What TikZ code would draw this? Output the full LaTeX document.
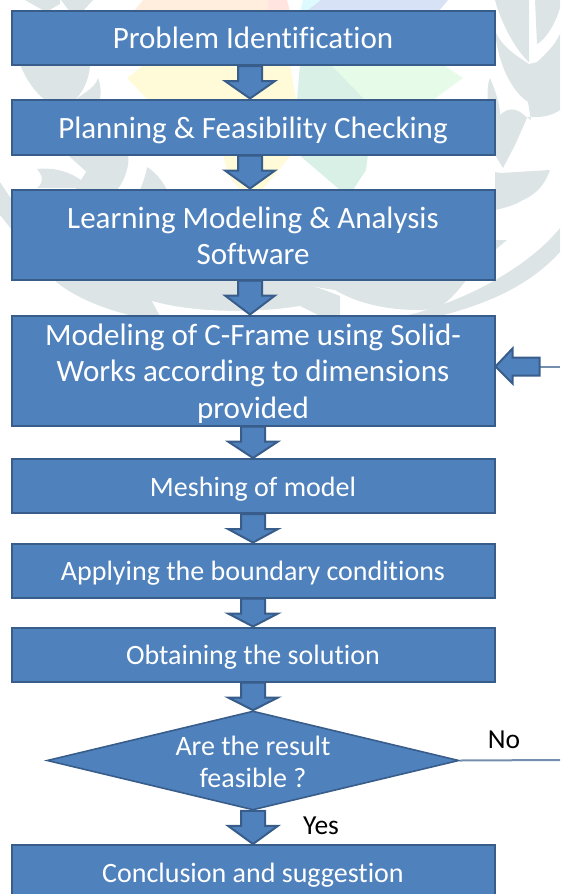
\documentclass[tikz,border=0pt]{standalone}
\usepackage{fontspec}
\setmainfont{Carlito}[Ligatures=NoCommon]
\usetikzlibrary{shapes.geometric,calc}
\definecolor{boxfill}{HTML}{4F81BD}
\definecolor{boxline}{HTML}{385D8A}
\definecolor{leaf}{HTML}{DCE4E6}
\definecolor{wmyellow}{HTML}{FFFBD8}
\definecolor{wmgreen}{HTML}{E6FBE8}
\definecolor{wmgreentwo}{HTML}{D8F0E6}
\definecolor{wmorange}{HTML}{FFEEDD}
\definecolor{wmpink}{HTML}{FFE4E0}
\definecolor{wmcyan}{HTML}{DDFBFF}
\definecolor{wmblue}{HTML}{D8E2F6}
\tikzset{
  x=1pt,y=-1pt,
  flow/.style={draw=boxline,line width=2pt,fill=boxfill,inner sep=0pt,minimum width=483pt},
  bigtext/.style={text=white,align=center,inner sep=0pt,font=\fontsize{31}{36.5}\selectfont},
  smalltext/.style={text=white,align=center,inner sep=0pt,font=\fontsize{28}{32}\selectfont},
  decision/.style={draw=boxline,line width=1.6pt,fill=boxfill,diamond,inner sep=0pt,aspect=4.16,minimum width=412pt,minimum height=99pt},
  blockarrow/.style={draw=boxline,line width=2pt,fill=boxfill,line join=miter},
  tag/.style={text=black,inner sep=0pt,font=\fontsize{27.5}{29}\selectfont},
  link/.style={draw=boxline!70!white,line width=2pt},
}
\newcommand{\downarrowblock}[2]{%
  \draw[blockarrow] let \p1=(#1), \p2=(#2) in
    (\x1-12,\y1) -- (\x1+12,\y1) -- (\x1+12,\y1-15) -- (\x1+25,\y1-15) -- (\x2,\y2)
    -- (\x1-25,\y1-15) -- (\x1-12,\y1-15) -- cycle;}
\begin{document}
\begin{tikzpicture}
\useasboundingbox (0,0) rectangle (560,894);
\clip (0,0) rectangle (560,894);
% watermark: colours
\fill[wmorange] (143,0) -- (268,0) -- (268,12) -- (133,12) -- cycle;
\fill[wmpink] (268,0) -- (287,0) -- (290,12) -- (268,12) -- cycle;
\fill[wmcyan] (303,0) -- (321,0) -- (305,12) -- (300,12) -- cycle;
\fill[wmblue] (321,0) -- (448,0) -- (438,12) -- (305,12) -- cycle;
\fill[wmyellow] (127,78) -- (145,64) -- (290,64) -- (296,100) -- (148,100) -- cycle;
\fill[wmgreen] (330,64) -- (442,64) -- (463,78) -- (433,100) -- (365,100) -- cycle;
\fill[wmgreentwo] (300,64) -- (330,64) -- (365,100) -- (297,100) -- cycle;
\fill[wmyellow] (223,154) -- (292,154) -- (262,190) -- (240,190) -- (228,175) -- cycle;
\fill[wmgreentwo] (298,154) -- (368,154) -- (366,170) -- (353,190) -- (340,190) -- cycle;
% watermark: leaves, left
\fill[leaf] (25,0) -- (60,0) -- (60,4) -- (46,12) -- cycle;
\fill[leaf] (61,0) -- (93,0) -- (82,12) -- (70,12) -- cycle;
\fill[leaf] (20,64) .. controls (26,80) and (35,92) .. (45,100) -- (75,100) .. controls (85,90) and (90,75) .. (90,64) -- cycle;
\fill[leaf] (75,100) .. controls (85,92) and (95,88) .. (98,78) .. controls (101,85) and (101,92) .. (100,100) -- cycle;
\fill[leaf] (67,154) .. controls (75,162) and (85,170) .. (95,180) -- (100,168) .. controls (103,164) and (100,158) .. (95,154) -- cycle;
\fill[leaf] (37,169) .. controls (55,167) and (75,172) .. (90,188) -- (37,188) .. controls (45,182) and (42,175) .. (37,169) -- cycle;
\fill[leaf] (97,154) -- (128,154) .. controls (130,165) and (125,180) .. (117,190) -- (75,190) -- cycle;
\fill[leaf] (147,167) .. controls (155,172) and (162,180) .. (167,190) -- (140,190) .. controls (143,182) and (146,175) .. (147,167) -- cycle;
\fill[leaf] (0,182) -- (12,200) -- (12,230) -- (0,215) -- cycle;
% watermark: leaves, right
\fill[leaf] (495,0) .. controls (500,20) and (515,50) .. (529,62) -- (529,0) -- cycle;
\fill[leaf] (495,30) .. controls (497,60) and (510,90) .. (528,102) -- (531,120) -- (527,117)
  .. controls (540,118) and (552,116) .. (560,110) -- (560,34) .. controls (555,45) and (545,55) .. (537,62) -- (529,64)
  .. controls (515,55) and (500,45) .. (495,30) -- cycle;
\fill[leaf] (537,44) .. controls (545,40) and (555,25) .. (560,8) -- (560,0) -- (535,0) -- cycle;
\fill[leaf] (490,78) .. controls (496,92) and (500,105) .. (500,115) .. controls (510,105) and (520,110) .. (527,118)
  -- (515,145) -- (503,168) -- (495,155) -- (495,130) .. controls (488,115) and (485,90) .. (490,78) -- cycle;
\fill[leaf] (500,173) -- (550,170) .. controls (545,185) and (535,195) .. (523,200) .. controls (515,205) and (505,208) .. (495,210) -- (495,172) -- cycle;
\fill[leaf] (495,240) -- (507,240) -- (495,250) -- cycle;
\fill[leaf] (405,316) .. controls (470,300) and (530,265) .. (560,228) -- (560,252) .. controls (530,285) and (490,303) .. (440,316) -- cycle;
% watermark: leaves, band under the third box
\fill[leaf] (53,279) .. controls (70,295) and (100,308) .. (133,316) -- (340,316) -- (340,296) .. controls (325,290) and (310,285) .. (293,279) -- cycle;
\fill[white] (152,301) .. controls (190,312) and (250,314) .. (300,306) -- (320,316) -- (160,316) -- cycle;
\fill[leaf] (290,279) -- (467,279) .. controls (455,295) and (445,305) .. (435,309) .. controls (405,312) and (365,308) .. (335,290) .. controls (320,288) and (305,285) .. (290,279) -- cycle;
% nodes
\node[flow,minimum height=54pt] (a) at (253,38) {};
\node[flow,minimum height=55pt] (b) at (253,127) {};
\node[flow,minimum height=90pt] (c) at (253,234.5) {};
\node[flow,minimum height=110pt] (d) at (253,370.5) {};
\node[flow,minimum height=54pt] (e) at (253,486) {};
\node[flow,minimum height=54pt] (f) at (253,570.5) {};
\node[flow,minimum height=54pt] (g) at (253,654.5) {};
\node[decision] (h) at (253,760.5) {};
\node[flow,minimum height=60pt] (i) at (253,875) {};
\node[bigtext] (at) at (a) {Problem Identification};
\node[bigtext] (bt) at ($(b)+(0,3)$) {Planning \& Feasibility Checking};
\node[bigtext] (ct) at ($(c)+(0,1.5)$) {Learning Modeling \& Analysis\\Software};
\node[bigtext] (dt) at ($(d)+(0,3)$) {Modeling of C-Frame using Solid-\\Works according to dimensions\\provided};
\node[smalltext] (et) at ($(e)+(0,3)$) {Meshing of model};
\node[smalltext] (ft) at ($(f)+(0,3)$) {Applying the boundary conditions};
\node[smalltext] (gt) at ($(g)+(0,3)$) {Obtaining the solution};
\node[smalltext] (ht) at ($(h)+(0,1)$) {Are the result\\feasible ?};
\node[smalltext] (it) at (253,875) {Conclusion and suggestion};
\node[tag] (no) at (504,740) {No};
\node[tag] (yes) at (321,826) {Yes};
\coordinate (fromright) at (560,760);
\coordinate (toright) at (560,367);
% connectors
\downarrowblock{$(a.south)+(-3,0)$}{$(b.north)+(-3,0)$}
\downarrowblock{$(b.south)+(-3,0)$}{$(c.north)+(-3,0)$}
\downarrowblock{$(c.south)+(-3,0)$}{$(d.north)+(-3,0)$}
\downarrowblock{d.south}{e.north}
\downarrowblock{e.south}{f.north}
\downarrowblock{f.south}{g.north}
\downarrowblock{g.south}{h.north}
\downarrowblock{h.south}{i.north}
\draw[link] (h.east) -- (fromright);
\draw[link] (toright) -- ($(d.east)+(44,-3.5)$);
\draw[blockarrow] let \p1=($(d.east)+(0,-4)$) in
  (\x1,\y1) -- (\x1+17,\y1-17) -- (\x1+17,\y1-9) -- (\x1+44,\y1-9) -- (\x1+44,\y1+9) -- (\x1+17,\y1+9) -- (\x1+17,\y1+18) -- cycle;
\end{tikzpicture}
\end{document}
